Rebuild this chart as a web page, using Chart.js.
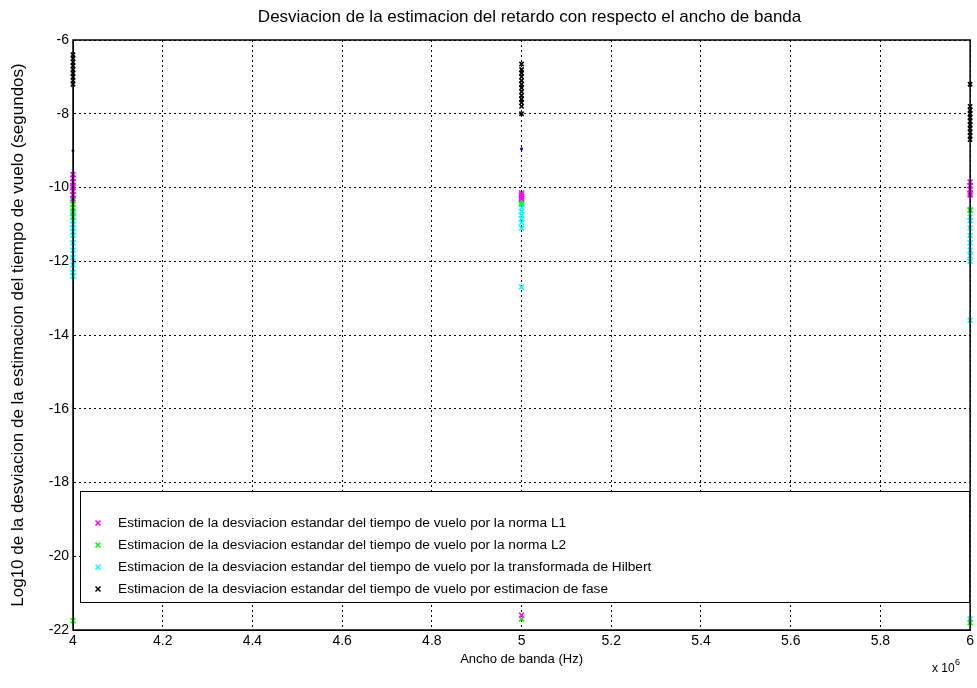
<!DOCTYPE html>
<html><head><meta charset="utf-8">
<script src="https://cdn.jsdelivr.net/npm/chart.js@4"></script>
<style>html,body{margin:0;padding:0;background:#fff}#w{width:977px;height:688px}</style>
</head><body><div id="w"><canvas id="c" width="977" height="688"></canvas></div>
<script>
const titleText = 'Desviacion de la estimacion del retardo con respecto el ancho de banda';
const xTitle = 'Ancho de banda (Hz)';
const yTitle = 'Log10 de la desviacion de la estimacion del tiempo de vuelo (segundos)';
const xTickValues = [4, 4.2, 4.4, 4.6, 4.8, 5, 5.2, 5.4, 5.6, 5.8, 6];
const yTickValues = [-6, -8, -10, -12, -14, -16, -18, -20, -22];
const seriesLabels = [
  'Estimacion de la desviacion estandar del tiempo de vuelo por la norma L1',
  'Estimacion de la desviacion estandar del tiempo de vuelo por la norma L2',
  'Estimacion de la desviacion estandar del tiempo de vuelo por la transformada de Hilbert',
  'Estimacion de la desviacion estandar del tiempo de vuelo por estimacion de fase'
];
// Norma L1 (magenta)
const l1X = [4,4,4,4,4,4,4,4, 5,5,5,5,5, 6,6,6,6,6];
const l1Y = [-9.65,-9.75,-9.85,-9.95,-10.0,-10.1,-10.2,-10.3, -10.15,-10.2,-10.25,-10.3,-21.6, -9.85,-9.95,-10.05,-10.15,-10.2];
// Norma L2 (green)
const l2X = [4,4,4,4,4,4, 5,5,5,5, 6,6];
const l2Y = [-10.35,-10.45,-10.55,-10.65,-10.8,-21.75, -10.3,-10.35,-10.42,-21.7, -10.62,-21.8];
// Hilbert (cyan)
const hilX = [4,4,4,4,4,4,4,4,4,4,4,4,4, 5,5,5,5,5,5,5,5,5, 6,6,6,6,6,6,6,6,6,6,6];
const hilY = [-10.7,-10.8,-10.9,-11.0,-11.1,-11.2,-11.3,-11.5,-11.7,-11.9,-12.1,-12.3,-12.4, -10.35,-10.45,-10.55,-10.65,-10.75,-10.85,-10.95,-11.1,-12.7, -10.6,-10.8,-10.9,-11.1,-11.3,-11.5,-11.7,-11.85,-12.0,-13.6,-21.7];
// Fase (black)
const faseX = [4,4,4,4,4,4,4,4,4, 5,5,5,5,5,5,5,5,5,5,5,5,5, 6,6,6,6,6,6,6,6,6,6,6];
const faseY = [-6.4,-6.5,-6.6,-6.7,-6.8,-6.9,-7.0,-7.1,-7.2, -6.65,-6.8,-6.9,-7.0,-7.1,-7.2,-7.3,-7.4,-7.5,-7.6,-7.7,-7.8,-8.0, -7.2,-7.8,-7.9,-8.0,-8.1,-8.2,-8.3,-8.4,-8.5,-8.6,-8.7];
// Extra blue points (not in legend)
const blueX = [4, 5];
const blueY = [-9.0, -8.95];

const colors = ['#ff00ff', '#00ff00', '#00ffff', '#000000'];
const FONT = "'Liberation Sans',Arial,sans-serif";

function pts(xs, ys){ return xs.map((x,i)=>({x:x, y:ys[i]})); }
function ds(label, xs, ys, color, r){
  return {label, data: pts(xs, ys), showLine:false, pointStyle:'crossRot', pointRadius:r||3.5,
    pointBorderColor:color, pointBackgroundColor:color, pointBorderWidth:1.6, borderColor:color, clip:8};
}

const legendPlugin = {
  id:'matLegend',
  afterDraw(chart){
    const ctx = chart.ctx, a = chart.chartArea;
    ctx.save();
    ctx.fillStyle = '#000';
    ctx.font = '17px ' + FONT;
    ctx.textAlign = 'center'; ctx.textBaseline = 'middle';
    ctx.fillText(titleText, (a.left + a.right) / 2 + 8, 17);
    ctx.font = '12px ' + FONT;
    ctx.textBaseline = 'alphabetic';
    ctx.textAlign = 'left';
    ctx.fillText('x 10', 932, 672);
    ctx.font = '9px ' + FONT;
    ctx.fillText('6', 955, 665);
    const bx = a.left + 7, by = 491, bw = a.right - bx, bh = 112;
    ctx.fillStyle = '#fff';
    ctx.fillRect(bx, by, bw, bh);
    ctx.strokeStyle = '#000'; ctx.lineWidth = 1;
    ctx.strokeRect(bx + 0.5, by + 0.5, bw - 1, bh - 1);
    ctx.font = '13.7px ' + FONT;
    ctx.textBaseline = 'middle';
    const rows = [523, 545, 567, 589];
    seriesLabels.forEach((lab, i) => {
      const y = rows[i];
      ctx.strokeStyle = colors[i]; ctx.lineWidth = 1.5;
      const mx = bx + 18, s = 2.5;
      ctx.beginPath();
      ctx.moveTo(mx - s, y - s); ctx.lineTo(mx + s, y + s);
      ctx.moveTo(mx + s, y - s); ctx.lineTo(mx - s, y + s);
      ctx.stroke();
      ctx.fillStyle = '#000';
      ctx.fillText(lab, bx + 38, y);
    });
    ctx.restore();
  }
};

new Chart(document.getElementById('c'), {
  type: 'scatter',
  data: { datasets: [
    ds(seriesLabels[0], l1X, l1Y, colors[0]),
    ds(seriesLabels[1], l2X, l2Y, colors[1]),
    ds(seriesLabels[2], hilX, hilY, colors[2]),
    ds(seriesLabels[3], faseX, faseY, colors[3], 3),
    ds('extra', blueX, blueY, '#0000ff', 1.5)
  ]},
  options: {
    responsive:false, animation:false, devicePixelRatio:1,
    layout:{ padding:{ top:40, right:1, left:0, bottom:21 } },
    plugins:{
      legend:{ display:false },
      tooltip:{ enabled:false },
      title:{ display:false }
    },
    scales:{
      x:{ type:'linear', min:4, max:6,
        afterBuildTicks(s){ s.ticks = xTickValues.map(v=>({value:v})); },
        afterFit(s){ s.height = 37; },
        ticks:{ color:'#000', font:{ family:FONT, size:14 }, padding:3, maxRotation:0, autoSkip:false, callback:(v)=>String(v) },
        grid:{ color:'#000', lineWidth:1, drawTicks:false },
        border:{ display:true, color:'#000', width:1, dash:[2,3] },
        title:{ display:true, text:xTitle, color:'#000', font:{ family:FONT, size:13 }, padding:{ top:0, bottom:0 } }
      },
      y:{ type:'linear', min:-22, max:-6,
        afterBuildTicks(s){ s.ticks = yTickValues.map(v=>({value:v})); },
        afterFit(s){ s.width = 73; },
        ticks:{ color:'#000', font:{ family:FONT, size:14 }, padding:4, autoSkip:false, callback:(v)=>String(v) },
        grid:{ color:'#000', lineWidth:1, drawTicks:false },
        border:{ display:true, color:'#000', width:1, dash:[2,3] },
        title:{ display:true, text:yTitle, color:'#000', font:{ family:FONT, size:17 }, padding:{ top:8, bottom:0 } }
      }
    }
  },
  plugins:[{
    id:'frame',
    afterDatasetsDraw(chart){
      const ctx = chart.ctx, a = chart.chartArea;
      ctx.save(); ctx.strokeStyle='#000'; ctx.lineWidth=1.5;
      ctx.strokeRect(a.left, a.top, a.right - a.left, a.bottom - a.top);
      ctx.restore();
    }
  }, legendPlugin]
});
</script>
</body></html>
